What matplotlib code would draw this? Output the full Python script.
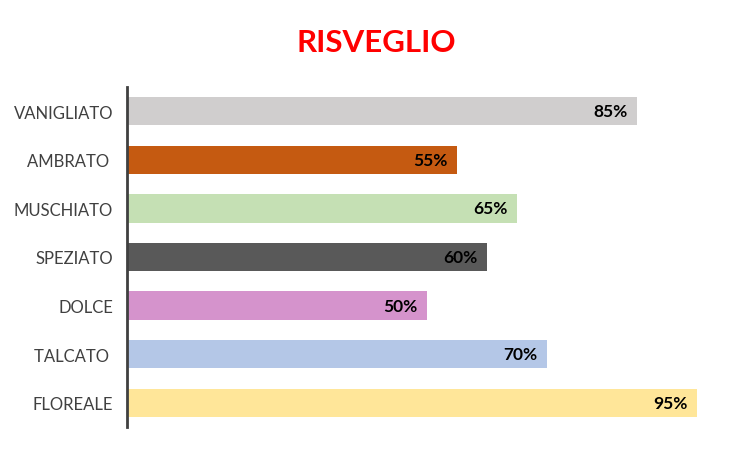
import matplotlib.pyplot as plt

# Chart data (top to bottom as shown)
categories = ['VANIGLIATO', 'AMBRATO ', 'MUSCHIATO', 'SPEZIATO', 'DOLCE', 'TALCATO ', 'FLOREALE']
values = [85, 55, 65, 60, 50, 70, 95]
colors = ['#D0CECE', '#C55A11', '#C5E0B4', '#595959', '#D593CC', '#B4C7E7', '#FFE699']

plt.rcParams['font.family'] = ['Lato', 'DejaVu Sans']

fig = plt.figure(figsize=(7.52, 4.52), dpi=100)
ax = fig.add_axes([127 / 752, 1 - 428 / 452, 600 / 752, 340 / 452])

pos = list(range(len(categories)))
ax.barh(pos, values, height=0.58, color=colors)
ax.set_xlim(0, 100)
ax.set_ylim(len(categories) - 0.5, -0.5)

# value labels inside bar ends
for p, v in zip(pos, values):
    ax.text(v - 1.6, p, f'{v}%', ha='right', va='center', fontsize=12.5,
            fontweight='bold', color='black')

ax.set_yticks(pos)
ax.set_yticklabels(categories, fontsize=12, color='#404040')
ax.tick_params(axis='y', length=0, pad=10)
ax.set_xticks([])

for side in ['top', 'right', 'bottom']:
    ax.spines[side].set_visible(False)
ax.spines['left'].set_color('#404040')
ax.spines['left'].set_linewidth(2)

fig.text(376 / 752, 1 - 43 / 452, 'RISVEGLIO', ha='center', va='center',
         fontsize=22.5, fontweight='bold', color='#FF0000')

fig.savefig('out.png', dpi=100)
